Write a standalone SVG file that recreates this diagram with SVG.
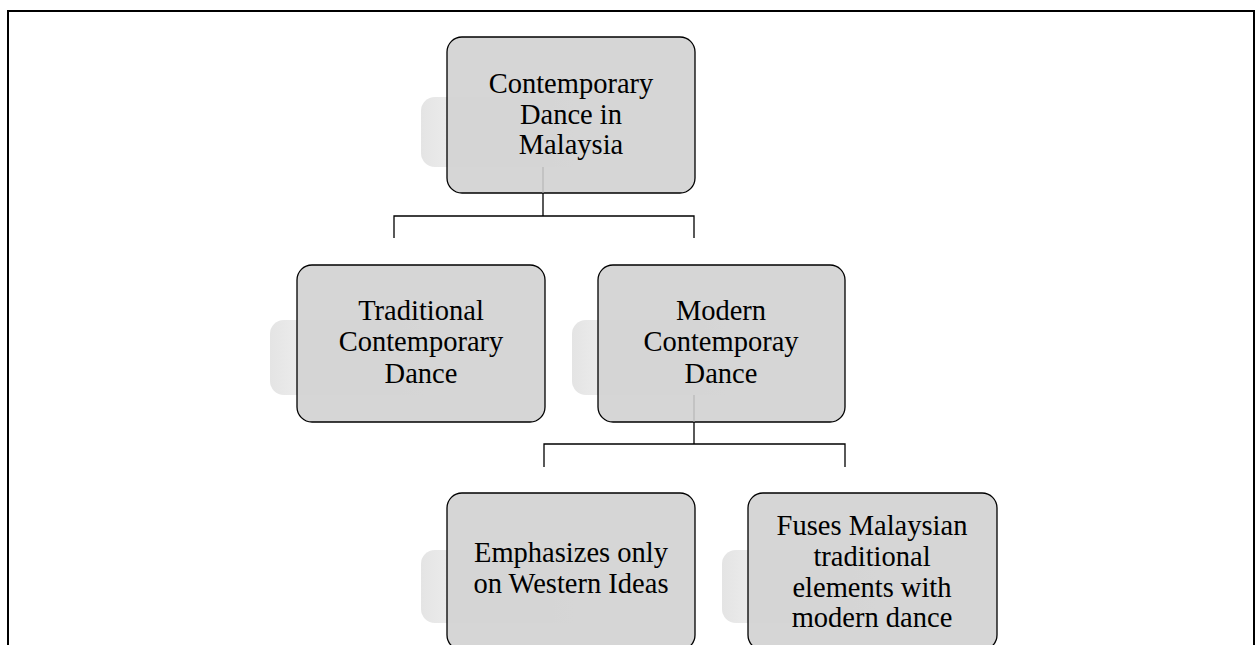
<svg xmlns="http://www.w3.org/2000/svg" width="1255" height="645" viewBox="0 0 1255 645">
<style>
.frame{fill:none;stroke:#000;stroke-width:2}
.box{fill:#d3d3d3;fill-opacity:0.93;stroke:#000;stroke-width:1.3}
.shadow{fill:url(#sh)}
.conn{fill:none;stroke:#000;stroke-width:1.3}
.faint{stroke:#b0b0b0;stroke-width:1}
.lbl{font-family:"Liberation Serif","Times New Roman",serif;font-size:28.5px;fill:#000;text-anchor:middle}
</style>
<defs>
<linearGradient id="sh" x1="0" y1="0" x2="1" y2="0">
<stop offset="0" stop-color="#e4e4e4"/>
<stop offset="0.15" stop-color="#eeeeee"/>
<stop offset="1" stop-color="#f7f7f7"/>
</linearGradient>
</defs>
<rect width="1255" height="645" fill="#fff"/>
<path class="frame" d="M8,645 V11 H1254 V645"/>
<g id="connectors">
<path class="conn" d="M543,193 V216 M394,238 V216 H694 V238"/>
<path class="conn" d="M694,422 V444 M544,467 V444 H845 V467"/>
</g>
<g id="n1">
<rect class="shadow" x="421" y="97" width="247" height="70" rx="14"/>
<rect class="box" x="447" y="37" width="248" height="156" rx="15"/>
<line class="faint" x1="543" y1="167" x2="543" y2="193"/>
<text class="lbl" x="571" y="93">Contemporary</text>
<text class="lbl" x="571" y="124">Dance in</text>
<text class="lbl" x="571" y="154">Malaysia</text>
</g>
<g id="n2">
<rect class="shadow" x="270" y="320" width="247" height="75" rx="14"/>
<rect class="box" x="297" y="265" width="248" height="157" rx="15"/>
<text class="lbl" x="421" y="320">Traditional</text>
<text class="lbl" x="421" y="351">Contemporary</text>
<text class="lbl" x="421" y="383">Dance</text>
</g>
<g id="n3">
<rect class="shadow" x="572" y="320" width="247" height="75" rx="14"/>
<rect class="box" x="598" y="265" width="247" height="157" rx="15"/>
<line class="faint" x1="694" y1="395" x2="694" y2="422"/>
<text class="lbl" x="721" y="320">Modern</text>
<text class="lbl" x="721" y="351">Contemporay</text>
<text class="lbl" x="721" y="383">Dance</text>
</g>
<g id="n4">
<rect class="shadow" x="421" y="550" width="247" height="73" rx="14"/>
<rect class="box" x="447" y="493" width="248" height="157" rx="15"/>
<text class="lbl" x="571" y="562">Emphasizes only</text>
<text class="lbl" x="571" y="593">on Western Ideas</text>
</g>
<g id="n5">
<rect class="shadow" x="722" y="550" width="247" height="73" rx="14"/>
<rect class="box" x="748" y="493" width="249" height="157" rx="15"/>
<text class="lbl" x="872" y="535">Fuses Malaysian</text>
<text class="lbl" x="872" y="566">traditional</text>
<text class="lbl" x="872" y="597">elements with</text>
<text class="lbl" x="872" y="627">modern dance</text>
</g>
</svg>
